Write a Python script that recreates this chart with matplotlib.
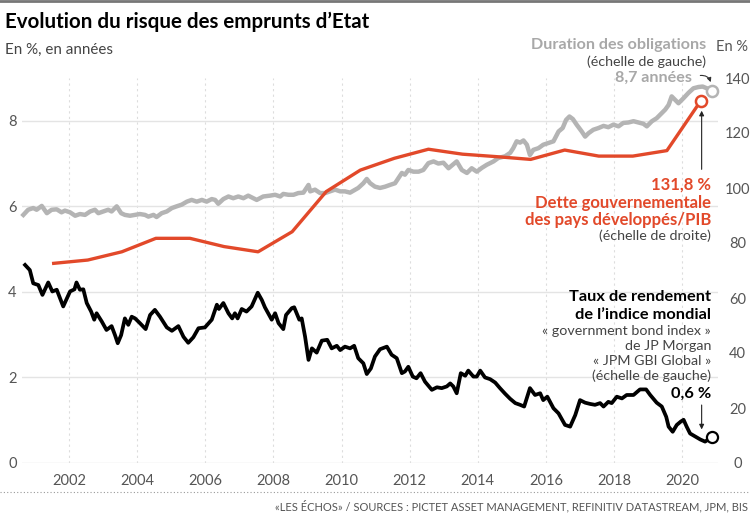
import matplotlib
matplotlib.use("Agg")
import matplotlib.pyplot as plt
from matplotlib.lines import Line2D

plt.rcParams['font.family'] = ['Lato', 'DejaVu Sans']

# rendement de l'indice JPM GBI Global (%), echelle de gauche
yield_x = [2000.71, 2000.85, 2000.95, 2001.1, 2001.22, 2001.39, 2001.51, 2001.64, 2001.83, 2002.03,
           2002.16, 2002.22, 2002.32, 2002.42, 2002.52, 2002.65, 2002.74, 2002.81, 2002.96, 2003.1,
           2003.25, 2003.35, 2003.43, 2003.53, 2003.64, 2003.74, 2003.84, 2003.94, 2004.08, 2004.25,
           2004.38, 2004.52, 2004.67, 2004.87, 2005.02, 2005.21, 2005.36, 2005.5, 2005.65, 2005.8,
           2005.99, 2006.19, 2006.34, 2006.4, 2006.53, 2006.68, 2006.79, 2006.87, 2006.95, 2007.07,
           2007.21, 2007.36, 2007.54, 2007.66, 2007.75, 2007.95, 2008.05, 2008.15, 2008.29, 2008.37,
           2008.54, 2008.61, 2008.76, 2008.83, 2008.93, 2009.03, 2009.13, 2009.27, 2009.42, 2009.58,
           2009.71, 2009.86, 2009.96, 2010.1, 2010.25, 2010.37, 2010.49, 2010.64, 2010.74, 2010.86,
           2010.98, 2011.13, 2011.33, 2011.47, 2011.62, 2011.77, 2011.86, 2011.96, 2012.09, 2012.2,
           2012.32, 2012.45, 2012.65, 2012.8, 2012.94, 2013.09, 2013.19, 2013.28, 2013.38, 2013.5,
           2013.63, 2013.72, 2013.87, 2013.97, 2014.07, 2014.21, 2014.36, 2014.51, 2014.65, 2014.8,
           2014.95, 2015.1, 2015.24, 2015.36, 2015.53, 2015.68, 2015.83, 2015.92, 2016.04, 2016.22,
           2016.37, 2016.56, 2016.71, 2016.86, 2017.0, 2017.15, 2017.3, 2017.44, 2017.59, 2017.69,
           2017.83, 2017.93, 2018.08, 2018.23, 2018.37, 2018.57, 2018.76, 2018.94, 2019.06, 2019.25,
           2019.4, 2019.53, 2019.6, 2019.72, 2019.84, 2019.96, 2020.04, 2020.13, 2020.23, 2020.38,
           2020.53, 2020.67, 2020.87]
yield_v = [4.63, 4.51, 4.2, 4.16, 3.93, 4.22, 4.01, 4.05, 3.66, 4.01,
           4.06, 4.22, 4.05, 4.06, 3.74, 3.54, 3.35, 3.5, 3.31, 3.11,
           3.2, 2.99, 2.8, 2.99, 3.38, 3.23, 3.42, 3.38, 3.27, 3.13,
           3.46, 3.58, 3.42, 3.17, 3.09, 3.2, 2.95, 2.81, 2.94, 3.15,
           3.17, 3.35, 3.7, 3.6, 3.74, 3.5, 3.38, 3.5, 3.38, 3.6,
           3.54, 3.66, 3.98, 3.81, 3.64, 3.35, 3.5, 3.27, 3.13, 3.46,
           3.62, 3.64, 3.35, 3.38, 2.95, 2.41, 2.68, 2.58, 2.86, 2.88,
           2.68, 2.74, 2.64, 2.72, 2.68, 2.74, 2.45, 2.33, 2.08, 2.21,
           2.49, 2.66, 2.72, 2.53, 2.45, 2.1, 2.14, 2.25, 2.02, 1.98,
           2.1, 1.9, 1.71, 1.77, 1.75, 1.79, 1.86, 1.79, 1.63, 2.1,
           2.04, 2.16, 2.02, 2.02, 2.16, 2.0, 1.96, 1.88, 1.75, 1.62,
           1.5, 1.4, 1.36, 1.32, 1.75, 1.59, 1.63, 1.47, 1.55, 1.28,
           1.16, 0.89, 0.85, 1.12, 1.47, 1.41, 1.38, 1.36, 1.4, 1.32,
           1.43, 1.4, 1.55, 1.51, 1.59, 1.59, 1.72, 1.72, 1.59, 1.41,
           1.32, 1.08, 0.85, 0.73, 0.89, 0.97, 1.01, 0.85, 0.69, 0.62,
           0.55, 0.5, 0.6]

# duration des obligations (annees), echelle de gauche
dur_x = [2000.66, 2000.8, 2000.95, 2001.05, 2001.2, 2001.35, 2001.49, 2001.64, 2001.78, 2001.88,
         2002.03, 2002.18, 2002.32, 2002.47, 2002.62, 2002.76, 2002.86, 2003.01, 2003.15, 2003.25,
         2003.4, 2003.53, 2003.64, 2003.79, 2003.94, 2004.08, 2004.23, 2004.33, 2004.48, 2004.57,
         2004.72, 2004.87, 2005.02, 2005.16, 2005.31, 2005.46, 2005.6, 2005.75, 2005.9, 2006.04,
         2006.19, 2006.29, 2006.38, 2006.53, 2006.68, 2006.82, 2006.97, 2007.12, 2007.26, 2007.41,
         2007.51, 2007.7, 2007.9, 2008.05, 2008.2, 2008.29, 2008.44, 2008.59, 2008.73, 2008.88,
         2009.03, 2009.08, 2009.22, 2009.37, 2009.52, 2009.66, 2009.81, 2009.96, 2010.1, 2010.25,
         2010.4, 2010.49, 2010.64, 2010.74, 2010.84, 2010.98, 2011.13, 2011.28, 2011.42, 2011.57,
         2011.67, 2011.77, 2011.86, 2011.96, 2012.11, 2012.26, 2012.4, 2012.55, 2012.7, 2012.84,
         2012.99, 2013.14, 2013.23, 2013.38, 2013.53, 2013.68, 2013.82, 2013.97, 2014.12, 2014.26,
         2014.46, 2014.6, 2014.8, 2014.95, 2015.04, 2015.14, 2015.24, 2015.34, 2015.44, 2015.53,
         2015.63, 2015.78, 2015.92, 2016.07, 2016.22, 2016.37, 2016.49, 2016.59, 2016.69, 2016.79,
         2016.9, 2017.05, 2017.15, 2017.25, 2017.39, 2017.54, 2017.69, 2017.83, 2017.98, 2018.13,
         2018.27, 2018.42, 2018.57, 2018.71, 2018.86, 2018.96, 2019.11, 2019.25, 2019.4, 2019.5,
         2019.6, 2019.69, 2019.79, 2019.89, 2020.04, 2020.18, 2020.33, 2020.48, 2020.6, 2020.72,
         2020.87]
dur_v = [5.8, 5.92, 5.96, 5.92, 6.01, 5.84, 5.92, 5.93, 5.86, 5.9,
         5.86, 5.78, 5.82, 5.8, 5.88, 5.92, 5.84, 5.88, 5.92, 5.88,
         6.0, 5.84, 5.8, 5.78, 5.8, 5.82, 5.8, 5.76, 5.8, 5.75,
         5.84, 5.88, 5.96, 6.0, 6.04, 6.11, 6.15, 6.11, 6.15, 6.11,
         6.17, 6.15, 6.06, 6.17, 6.23, 6.19, 6.23, 6.19, 6.25, 6.19,
         6.15, 6.23, 6.25, 6.27, 6.23, 6.29, 6.27, 6.27, 6.31, 6.32,
         6.5, 6.35, 6.39, 6.31, 6.31, 6.35, 6.39, 6.35, 6.35, 6.32,
         6.39, 6.43, 6.54, 6.64, 6.54, 6.46, 6.43, 6.46, 6.5, 6.54,
         6.66, 6.78, 6.74, 6.85, 6.81, 6.81, 6.85, 7.01, 7.05, 7.0,
         7.02, 6.89, 6.95, 7.05, 6.85, 6.78, 6.89, 6.81, 6.9, 6.97,
         7.05, 7.13, 7.17, 7.25, 7.36, 7.52, 7.49, 7.54, 7.44, 7.2,
         7.32, 7.36, 7.44, 7.48, 7.52, 7.75, 7.83, 8.02, 8.1, 8.04,
         7.91, 7.75, 7.63, 7.71, 7.79, 7.83, 7.88, 7.85, 7.91, 7.87,
         7.95, 7.96, 7.99, 7.96, 7.93, 7.87, 7.99, 8.06, 8.18, 8.26,
         8.37, 8.57, 8.49, 8.41, 8.53, 8.65, 8.76, 8.79, 8.8, 8.76,
         8.7]

# dette gouvernementale des pays developpes / PIB (%), echelle de droite
debt_years = [2001, 2002, 2003, 2004, 2005, 2006, 2007, 2008, 2009, 2010,
              2011, 2012, 2013, 2014, 2015, 2016, 2017, 2018, 2019, 2020]
debt_v = [72.6, 73.8, 76.8, 81.7, 81.7, 78.7, 76.8, 84.1, 98.7, 106.5,
          110.8, 114.1, 112.3, 111.4, 110.4, 113.8, 111.6, 111.6, 113.6, 131.8]

year_ticks = [2002, 2004, 2006, 2008, 2010, 2012, 2014, 2016, 2018, 2020]
left_ticks = [0, 2, 4, 6, 8]
right_ticks = [0, 20, 40, 60, 80, 100, 120, 140]

ORANGE = "#e2492a"
GREY = "#b4b4b4"
TXT = "#444444"

fig = plt.figure(figsize=(7.5, 5.15), dpi=100)
ax = fig.add_axes([22 / 750, 52 / 515, 696 / 750, 385 / 515])
ax2 = ax.twinx()

ax.set_xlim(2000.62, 2021.05)
ax.set_ylim(0, 9)
ax2.set_ylim(0, 140)

for a in (ax, ax2):
    for s in a.spines.values():
        s.set_visible(False)

ax.set_xticks(year_ticks)
ax.set_xticklabels([str(y) for y in year_ticks])
ax.set_yticks(left_ticks)
ax.set_yticklabels([str(t) for t in left_ticks])
ax2.set_yticks(right_ticks)
ax2.set_yticklabels([str(t) for t in right_ticks])

ax.tick_params(axis="x", length=0, pad=8, labelsize=10.5, labelcolor="#555555")
ax.tick_params(axis="y", length=0, pad=7, labelsize=10.5, labelcolor="#555555")
for lab in ax.get_yticklabels():
    lab.set_horizontalalignment("center")
ax2.tick_params(axis="y", length=0, pad=14, labelsize=10.5, labelcolor="#555555")
for lab in ax2.get_yticklabels():
    lab.set_horizontalalignment("center")

ax.grid(axis="y", color="#e4e4e4", lw=1)
ax.grid(axis="x", color="#dddddd", lw=0.8, ls=(0, (2, 3)))
ax.set_axisbelow(True)

ax2.plot([y + 0.55 for y in debt_years], debt_v, color=ORANGE, lw=2.4, clip_on=False, zorder=3)
ax.plot(dur_x, dur_v, color=GREY, lw=3.2, clip_on=False, zorder=2)
ax.plot(yield_x, yield_v, color="black", lw=2.7, clip_on=False, zorder=4)

# cercles de fin de serie
ax.plot(dur_x[-1], dur_v[-1], "o", ms=8, mfc="white", mec=GREY, mew=1.8, clip_on=False, zorder=5)
ax.plot(yield_x[-1], yield_v[-1], "o", ms=8, mfc="white", mec="black", mew=1.6, clip_on=False, zorder=5)
ax2.plot(debt_years[-1] + 0.55, debt_v[-1], "o", ms=8, mfc="white", mec=ORANGE, mew=1.8,
         clip_on=False, zorder=5)

# annotations
ax.text(2020.7, 9.76, "Duration des obligations", ha="right", va="center", fontsize=11.6,
        fontweight="bold", color="#a8a8a8")
ax.text(2020.7, 9.37, "(échelle de gauche)", ha="right", va="center", fontsize=10.3, color=TXT)
ax.text(2020.3, 9.0, "8,7 années", ha="right", va="center", fontsize=11.6,
        fontweight="bold", color="#a8a8a8")
ax.annotate("", xy=(2020.86, 8.84), xytext=(2020.45, 9.05),
            arrowprops=dict(arrowstyle="-|>", color="#333333", lw=0.8, mutation_scale=6,
                            connectionstyle="arc3,rad=-0.5"), annotation_clip=False)
fig.text(748 / 750, 1 - 47 / 515, "En %", ha="right", va="center", fontsize=10.5, color="#555555")

ax.text(2020.85, 6.5, "131,8 %", ha="right", va="center", fontsize=12, fontweight="bold", color=ORANGE)
ax.text(2020.85, 6.07, "Dette gouvernementale", ha="right", va="center", fontsize=12,
        fontweight="bold", color=ORANGE)
ax.text(2020.85, 5.67, "des pays développés/PIB", ha="right", va="center", fontsize=12,
        fontweight="bold", color=ORANGE)
ax.text(2020.85, 5.31, "(échelle de droite)", ha="right", va="center", fontsize=10.3, color=TXT)
ax.annotate("", xy=(2020.57, 8.3), xytext=(2020.57, 6.8),
            arrowprops=dict(arrowstyle="-|>", color="#222222", lw=0.8, mutation_scale=7),
            annotation_clip=False)

ax.text(2020.85, 3.88, "Taux de rendement", ha="right", va="center", fontsize=11.8,
        fontweight="bold", color="black")
ax.text(2020.85, 3.46, "de l\u2019indice mondial", ha="right", va="center", fontsize=11.8,
        fontweight="bold", color="black")
ax.text(2020.85, 3.08, "« government bond index »", ha="right", va="center", fontsize=10.3, color=TXT)
ax.text(2020.85, 2.73, "de JP Morgan", ha="right", va="center", fontsize=10.3, color=TXT)
ax.text(2020.85, 2.38, "« JPM GBI Global »", ha="right", va="center", fontsize=10.3, color=TXT)
ax.text(2020.85, 2.04, "(échelle de gauche)", ha="right", va="center", fontsize=10.3, color=TXT)
ax.text(2020.85, 1.62, "0,6 %", ha="right", va="center", fontsize=11.8, fontweight="bold", color="black")
ax.annotate("", xy=(2020.57, 0.72), xytext=(2020.57, 1.42),
            arrowprops=dict(arrowstyle="-|>", color="#222222", lw=0.8, mutation_scale=7),
            annotation_clip=False)

# titre, sous-titre, source
fig.add_artist(Line2D([0, 1], [0.998, 0.998], transform=fig.transFigure, color="#777777", lw=2))
fig.text(5 / 750, 1 - 22 / 515, "Evolution du risque des emprunts d\u2019Etat", ha="left", va="center",
         fontsize=14.8, fontweight="bold", color="black")
fig.text(5 / 750, 1 - 50 / 515, "En %, en années", ha="left", va="center", fontsize=10.9, color=TXT)
fig.add_artist(Line2D([0, 1], [1 - 492 / 515, 1 - 492 / 515], transform=fig.transFigure,
                      color="#999999", lw=0.8, ls=(0, (1, 2))))
fig.text(748 / 750, 1 - 506 / 515,
         "«LES ÉCHOS» / SOURCES : PICTET ASSET MANAGEMENT, REFINITIV DATASTREAM, JPM, BIS",
         ha="right", va="center", fontsize=8.0, color="#555555")

fig.savefig("out.png", dpi=100)
